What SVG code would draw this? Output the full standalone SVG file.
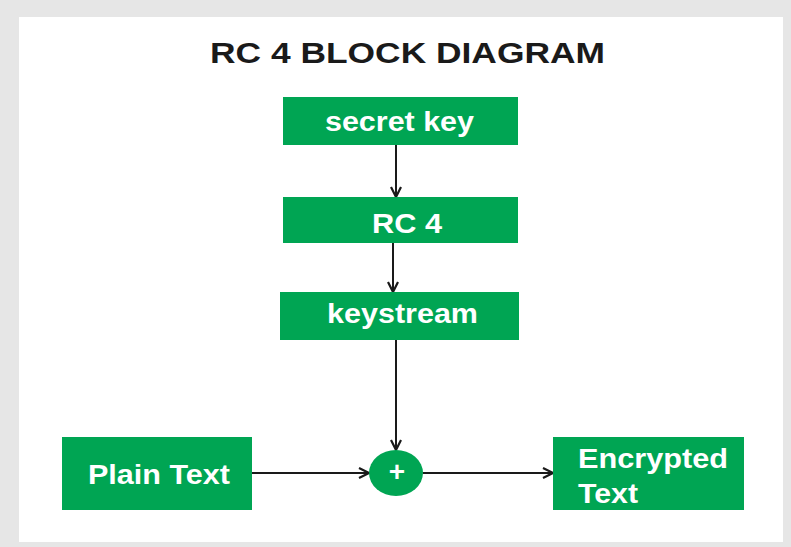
<svg xmlns="http://www.w3.org/2000/svg" width="791" height="547" viewBox="0 0 791 547">
<style>
.box{fill:#00a553}
.lbl{font-family:"Liberation Sans",Arial,sans-serif;font-weight:bold;fill:#ffffff;font-size:28px}
.title{font-family:"Liberation Sans",Arial,sans-serif;font-weight:bold;fill:#1a1a1a;font-size:29px}
.edge{stroke:#1a1a1a;stroke-width:2;fill:none}
</style>
<defs>
<marker id="arr" viewBox="0 0 12 12" refX="11" refY="6" markerWidth="12" markerHeight="12" markerUnits="userSpaceOnUse" orient="auto">
<polyline points="1,1 11,6 1,11" fill="none" stroke="#1a1a1a" stroke-width="2.2"/>
</marker>
</defs>
<rect x="0" y="0" width="791" height="547" fill="#e6e6e6"/>
<rect x="19" y="17" width="764" height="525" fill="#ffffff"/>
<text class="title" x="210" y="63" textLength="395" lengthAdjust="spacingAndGlyphs">RC 4 BLOCK DIAGRAM</text>
<g id="connectors">
<line class="edge" x1="396" y1="145" x2="396" y2="197" marker-end="url(#arr)"/>
<line class="edge" x1="393" y1="243" x2="393" y2="292" marker-end="url(#arr)"/>
<line class="edge" x1="396" y1="340" x2="396" y2="450" marker-end="url(#arr)"/>
<line class="edge" x1="252" y1="473" x2="369" y2="473" marker-end="url(#arr)"/>
<line class="edge" x1="423" y1="473" x2="553" y2="473" marker-end="url(#arr)"/>
</g>
<g id="secret-key">
<rect class="box" x="283" y="97" width="235" height="48"/>
<text class="lbl" x="325" y="131" textLength="149" lengthAdjust="spacingAndGlyphs">secret key</text>
</g>
<g id="rc4">
<rect class="box" x="283" y="197" width="235" height="46"/>
<text class="lbl" x="372" y="233" textLength="70" lengthAdjust="spacingAndGlyphs">RC 4</text>
</g>
<g id="keystream">
<rect class="box" x="280" y="292" width="239" height="48"/>
<text class="lbl" x="327" y="323" textLength="151" lengthAdjust="spacingAndGlyphs">keystream</text>
</g>
<g id="plain-text">
<rect class="box" x="62" y="437" width="190" height="73"/>
<text class="lbl" x="88" y="484" textLength="142" lengthAdjust="spacingAndGlyphs">Plain Text</text>
</g>
<g id="xor">
<ellipse class="box" cx="396" cy="473" rx="27" ry="23"/>
<text class="lbl" x="397" y="481" text-anchor="middle" font-size="24">+</text>
</g>
<g id="encrypted-text">
<rect class="box" x="553" y="437" width="191" height="73"/>
<text class="lbl" x="578" y="468" textLength="150" lengthAdjust="spacingAndGlyphs">Encrypted</text>
<text class="lbl" x="578" y="503" textLength="60" lengthAdjust="spacingAndGlyphs">Text</text>
</g>
</svg>
